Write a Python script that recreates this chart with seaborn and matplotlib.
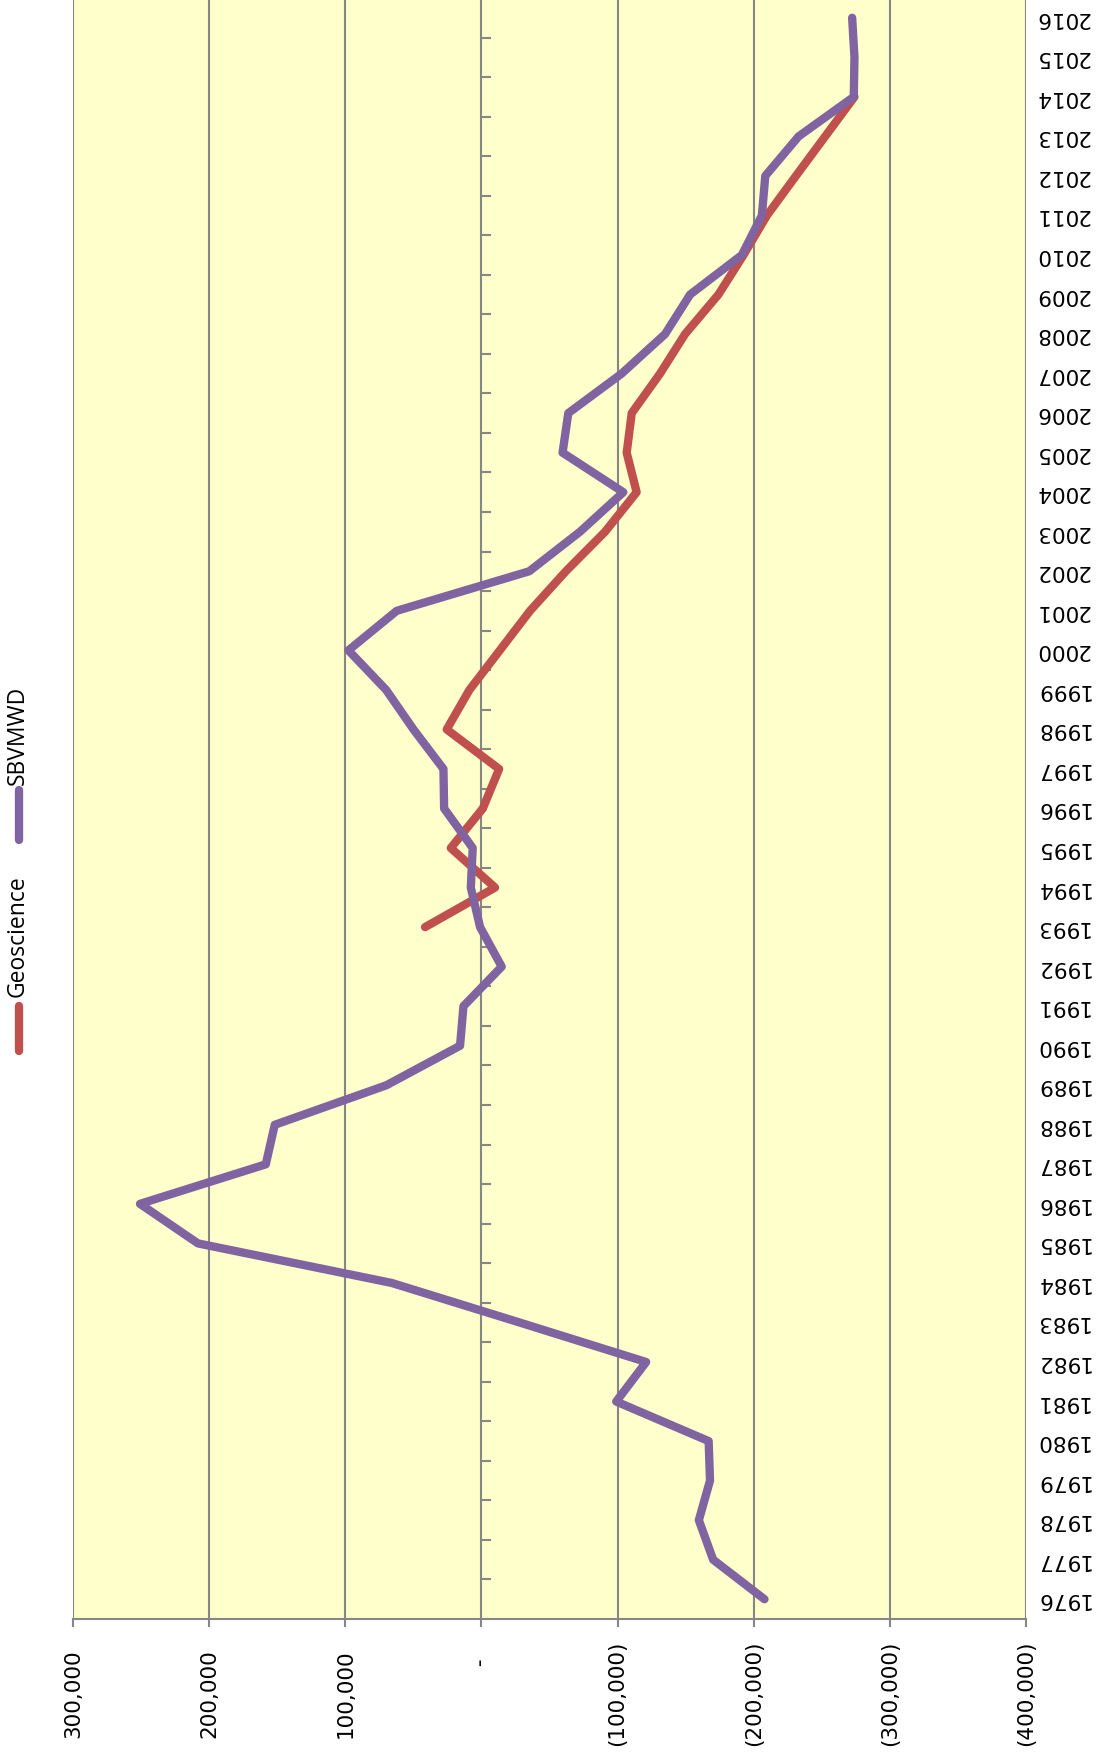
import numpy as np
import pandas as pd
import seaborn as sns
import matplotlib.pyplot as plt
from matplotlib.lines import Line2D

W, H = 1099, 1752

# data (annual values)
years = list(range(1976, 2017))
sbvmwd = [-207900, -170200, -159700, -167900, -166900, -99000, -121000, -28000,
          65900, 208200, 250800, 158400, 151800, 69800, 15700, 13200, -14900,
          1000, 7800, 6400, 27400, 27900, 49900, 70000, 97700, 62200, -35100,
          -72400, -104200, -59600, -63800, -103000, -134900, -153300, -191300,
          -206000, -208500, -233000, -273500, -274000, -272300]

geo_years = list(range(1993, 2015))
geoscience = [41400, -10000, 22500, -1000, -13000, 25500, 8800, -13500, -35700,
              -62000, -90800, -114000, -106700, -110400, -131200, -149600,
              -174100, -192500, -209700, -231000, -252500, -274000]

value_ticks = [300000, 200000, 100000, 0, -100000, -200000, -300000, -400000]
# accounting style: zero shown as a dash (padded like Excel does)
value_labels = ["300,000", "200,000", "100,000", "         -", "(100,000)",
                "(200,000)", "(300,000)", "(400,000)"]

series_names = ["Geoscience", "SBVMWD"]
colors = {"Geoscience": "#C0504D", "SBVMWD": "#8064A2"}

df = pd.concat([
    pd.DataFrame({"year": geo_years, "value": geoscience, "series": "Geoscience"}),
    pd.DataFrame({"year": years, "value": sbvmwd, "series": "SBVMWD"}),
])

grid_c = "#868686"

fig = plt.figure(figsize=(W / 100, H / 100), dpi=100)
ax = fig.add_axes([73 / W, 1 - 1619 / H, (1026 - 73) / W, 1621 / H])
ax.set_facecolor("#FFFFCC")

sns.lineplot(data=df, x="value", y="year", hue="series", palette=colors,
             hue_order=series_names, orient="y", sort=False, estimator=None,
             lw=6, legend=False, ax=ax)
for ln in ax.lines:
    ln.set_solid_capstyle("round")
    ln.set_solid_joinstyle("round")

ax.set_xlim(300000, -400000)
ax.set_ylim(1975.5, 2016.5)

# value axis (bottom)
ax.set_xticks(value_ticks)
ax.set_xticklabels(value_labels, rotation=90, va="center", fontsize=15.5)
ax.tick_params(axis="x", direction="out", length=5.5, width=1.5, color=grid_c, pad=48)
ax.grid(axis="x", color=grid_c, lw=1.5)
ax.grid(axis="y", visible=False)
ax.set_axisbelow(True)

# category axis, labels on the right, upside down
ax.yaxis.tick_right()
ax.set_yticks(years)
ax.set_yticklabels([str(y) for y in years], rotation=180, ha="left", va="center",
                   fontsize=15.5)
ax.tick_params(axis="y", length=0, pad=6)

# small category tick marks along the zero line
for b in np.arange(1976.5, 2016.5, 1.0):
    ax.plot([0, -6000], [b, b], color=grid_c, lw=1.5, zorder=1)

for s in ["left", "top", "right"]:
    ax.spines[s].set_visible(False)
ax.spines["bottom"].set_color(grid_c)
ax.spines["bottom"].set_linewidth(1.5)
ax.set_xlabel("")
ax.set_ylabel("")

# legend, rotated like the rest of the chart
legend_pos = {"Geoscience": (1006, 1051, 997), "SBVMWD": (790, 840, 785)}
for name in series_names:
    y0, y1, ty = legend_pos[name]
    fig.add_artist(Line2D([19 / W, 19 / W], [1 - y0 / H, 1 - y1 / H],
                          transform=fig.transFigure, color=colors[name], lw=6,
                          solid_capstyle="round"))
    fig.text(18 / W, 1 - ty / H, name, rotation=90, ha="center", va="bottom",
             fontsize=16.5, family="Open Sans")

fig.savefig("out.png", dpi=100, facecolor="white")
